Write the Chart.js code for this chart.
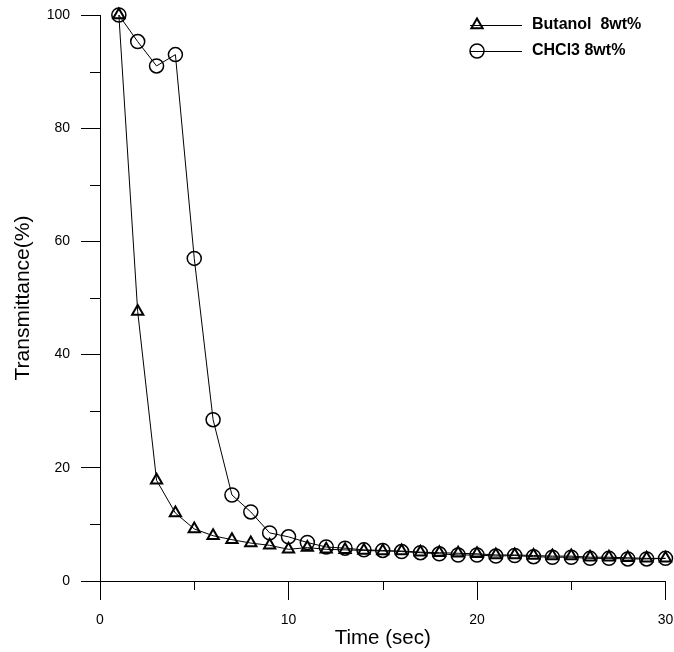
<!DOCTYPE html>
<html>
<head>
<meta charset="utf-8">
<title>Transmittance vs time</title>
<script src="https://cdn.jsdelivr.net/npm/chart.js@4"></script>
<style>
    html, body { margin: 0; padding: 0; background: #fff; }
    #chart { display: block; }
</style>
</head>
<body>
<canvas id="chart" width="674" height="652"></canvas>
<script>
// Time axis (sec) and the two measured series (%)
const timeSec = [1, 2, 3, 4, 5, 6, 7, 8, 9, 10, 11, 12, 13, 14, 15,
                 16, 17, 18, 19, 20, 21, 22, 23, 24, 25, 26, 27, 28, 29, 30];
const butanol = [100, 47.6, 17.8, 12.0, 9.2, 8.0, 7.3, 6.7, 6.3, 5.6, 5.9, 5.6, 5.5, 5.4, 5.3,
                 5.3, 5.1, 5.0, 4.9, 4.8, 4.6, 4.6, 4.5, 4.4, 4.4, 4.2, 4.2, 4.1, 4.0, 4.0];
const chcl3 = [100, 95.3, 91.0, 93.0, 57.0, 28.5, 15.2, 12.2, 8.5, 7.8, 6.8, 6.0, 5.8, 5.5, 5.4,
               5.2, 5.0, 4.8, 4.6, 4.6, 4.4, 4.5, 4.3, 4.2, 4.2, 4.0, 4.0, 3.9, 3.9, 4.0];

const seriesLabels = ["Butanol  8wt%", "CHCl3 8wt%"];
const xMinorTicks = [5, 15, 25];
const yMinorTicks = [10, 30, 50, 70, 90];

const FONT = "'Liberation Sans', Arial, sans-serif";

// short ticks between the labelled ones
const minorTicks = {
    id: "minorTicks",
    afterDraw(chart) {
        const { ctx, scales: { x, y } } = chart;
        ctx.save();
        ctx.strokeStyle = "#000";
        ctx.lineWidth = 1;
        ctx.beginPath();
        xMinorTicks.forEach(v => {
            const px = Math.round(x.getPixelForValue(v)) + 0.5;
            ctx.moveTo(px, x.top);
            ctx.lineTo(px, x.top + 9);
        });
        yMinorTicks.forEach(v => {
            const py = Math.round(y.getPixelForValue(v)) + 0.5;
            ctx.moveTo(y.right - 10, py);
            ctx.lineTo(y.right, py);
        });
        ctx.stroke();
        ctx.restore();
    }
};

// legend: short line with the marker at its left end, bold text
const lineLegend = {
    id: "lineLegend",
    afterDraw(chart) {
        const ctx = chart.ctx;
        const x0 = 470, x1 = 522, textX = 532;
        const rows = [25, 51];
        ctx.save();
        chart.data.datasets.forEach((ds, i) => {
            const yy = rows[i];
            ctx.strokeStyle = "#000";
            ctx.lineWidth = 1;
            ctx.beginPath();
            ctx.moveTo(x0, yy + 0.5);
            ctx.lineTo(x1, yy + 0.5);
            ctx.stroke();

            const mx = 477;
            ctx.lineWidth = ds.pointBorderWidth;
            ctx.beginPath();
            if (ds.pointStyle === "triangle") {
                const r = ds.pointRadius;
                ctx.moveTo(mx, yy - r);
                ctx.lineTo(mx + r * Math.sqrt(3) / 2, yy + r / 2);
                ctx.lineTo(mx - r * Math.sqrt(3) / 2, yy + r / 2);
                ctx.closePath();
            } else {
                ctx.arc(mx, yy, ds.pointRadius, 0, Math.PI * 2);
            }
            ctx.stroke();

            ctx.fillStyle = "#000";
            ctx.font = "bold 16px " + FONT;
            ctx.textBaseline = "middle";
            ctx.textAlign = "left";
            ctx.fillText(ds.label, textX, yy);
        });
        ctx.restore();
    }
};

const ctx = document.getElementById("chart").getContext("2d");

new Chart(ctx, {
    type: "line",
    data: {
        datasets: [
            {
                label: seriesLabels[0],
                data: timeSec.map((t, i) => ({ x: t, y: butanol[i] })),
                borderColor: "#000",
                borderWidth: 1,
                pointStyle: "triangle",
                pointRadius: 6.5,
                pointBorderWidth: 2,
                pointBorderColor: "#000",
                pointBackgroundColor: "rgba(0,0,0,0)",
                tension: 0,
                clip: false
            },
            {
                label: seriesLabels[1],
                data: timeSec.map((t, i) => ({ x: t, y: chcl3[i] })),
                borderColor: "#000",
                borderWidth: 1,
                pointStyle: "circle",
                pointRadius: 7,
                pointBorderWidth: 1.5,
                pointBorderColor: "#000",
                pointBackgroundColor: "rgba(0,0,0,0)",
                tension: 0,
                clip: false
            }
        ]
    },
    options: {
        responsive: false,
        animation: false,
        layout: { padding: { top: 15, right: 8, bottom: 0, left: 0 } },
        plugins: {
            legend: { display: false },
            tooltip: { enabled: false }
        },
        scales: {
            x: {
                type: "linear",
                min: 0,
                max: 30,
                afterFit: scale => {
                    scale.height = 71;
                    scale.paddingLeft = 0;
                    scale.paddingRight = 0;
                },
                ticks: {
                    stepSize: 10,
                    color: "#000",
                    padding: 12,
                    maxRotation: 0,
                    font: { family: FONT, size: 14 }
                },
                grid: {
                    drawOnChartArea: false,
                    drawTicks: true,
                    tickLength: 19,
                    tickColor: "#000"
                },
                border: { display: true, color: "#000", width: 1 },
                title: {
                    display: true,
                    text: "Time (sec)",
                    color: "#000",
                    padding: { top: 0, bottom: 1 },
                    font: { family: FONT, size: 20.5 }
                }
            },
            y: {
                type: "linear",
                min: 0,
                max: 100,
                afterFit: scale => {
                    scale.width = 100;
                    scale.paddingTop = 0;
                    scale.paddingBottom = 0;
                },
                ticks: {
                    stepSize: 20,
                    color: "#000",
                    padding: 11,
                    font: { family: FONT, size: 14 }
                },
                grid: {
                    drawOnChartArea: false,
                    drawTicks: true,
                    tickLength: 19,
                    tickColor: "#000"
                },
                border: { display: true, color: "#000", width: 1 },
                title: {
                    display: true,
                    text: "Transmittance(%)",
                    color: "#000",
                    padding: { top: 11, bottom: 0 },
                    font: { family: FONT, size: 21 }
                }
            }
        }
    },
    plugins: [minorTicks, lineLegend]
});
</script>
</body>
</html>
